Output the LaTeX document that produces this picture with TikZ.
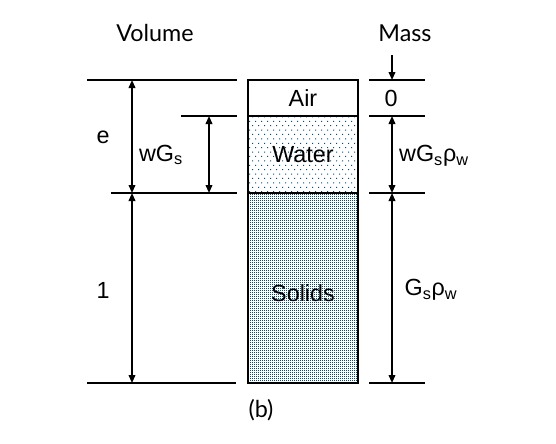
\documentclass[tikz,border=0pt]{standalone}
\usepackage{fontspec}
\setmainfont{Liberation Sans}
\newfontfamily\titlefont{Lato}
\usetikzlibrary{arrows.meta,patterns,positioning}
\pgfdeclarepatternformonly{waterdots}{\pgfpoint{-1pt}{-1pt}}{\pgfpoint{5.5pt}{7.6pt}}{\pgfpoint{4.5pt}{6.6pt}}
{
    \pgfpathrectangle{\pgfpoint{0pt}{0pt}}{\pgfpoint{0.75pt}{0.75pt}}
    \pgfpathrectangle{\pgfpoint{2.25pt}{3.3pt}}{\pgfpoint{0.75pt}{0.75pt}}
    \pgfusepath{fill}
}
\pgfdeclarepatternformonly{soliddots}{\pgfpoint{-0.5pt}{-0.5pt}}{\pgfpoint{2pt}{2pt}}{\pgfpoint{1.5pt}{1.5pt}}
{
    \pgfpathrectangle{\pgfpoint{0pt}{0pt}}{\pgfpoint{1pt}{1pt}}
    \pgfusepath{fill}
}
\definecolor{dotblue}{RGB}{0,78,125}
\tikzset
{
    phasebox/.style = {rectangle, draw=black, line width=1.5pt, minimum width=82.5pt, outer sep=0pt, inner sep=0pt, font=\fontsize{17.5}{19}\selectfont},
    levelline/.style = {line width=1.5pt},
    dimarrow/.style = {line width=1.2pt, {Triangle[length=6pt,width=5pt]}-{Triangle[length=6pt,width=5pt]}},
    downarrow/.style = {line width=1.2pt, -{Triangle[length=6pt,width=5pt]}},
    quantity/.style = {inner sep=0pt, font=\fontsize{17.5}{19}\selectfont},
    heading/.style = {inner sep=0pt, font=\titlefont\fontsize{17.5}{19}\selectfont}
}

\begin{document}
\begin{tikzpicture}[x=0.75pt, y=-0.75pt]
\useasboundingbox (0,0) rectangle (556,443);
% phase column
\node[phasebox, minimum height=27pt, anchor=north] (air) at (303,80) {Air};
\node[phasebox, minimum height=57.75pt, pattern=waterdots, pattern color=dotblue, below=0pt of air] (water) {Water};
\node[phasebox, minimum height=142.5pt, pattern=soliddots, pattern color=dotblue, below=0pt of water] (solids) {};
\node[quantity] (solidstext) at (303,293) {Solids};
% volume side
\coordinate (vTopL) at (87,80);   \coordinate (vTopR) at (237,80);
\coordinate (vWatL) at (181,116); \coordinate (vWatR) at (237,116);
\coordinate (vSolL) at (111,193); \coordinate (vSolR) at (237,193);
\coordinate (vBotL) at (87,383);  \coordinate (vBotR) at (236,383);
\draw[levelline] (vTopL) -- (vTopR);
\draw[levelline] (vWatL) -- (vWatR);
\draw[levelline] (vSolL) -- (vSolR);
\draw[levelline] (vBotL) -- (vBotR);
\coordinate (eTop) at (132,80);  \coordinate (eBot) at (132,193);
\coordinate (oneBot) at (132,383);
\coordinate (wTop) at (209,116); \coordinate (wBot) at (209,193);
\draw[dimarrow] (eTop) -- (eBot);
\draw[dimarrow] (eBot) -- (oneBot);
\draw[dimarrow] (wTop) -- (wBot);
% mass side
\coordinate (mTopL) at (369,80);  \coordinate (mTopR) at (425,80);
\coordinate (mWatL) at (369,116); \coordinate (mWatR) at (425,116);
\coordinate (mSolL) at (369,193); \coordinate (mSolR) at (425,193);
\coordinate (mBotL) at (369,383); \coordinate (mBotR) at (425,383);
\draw[levelline] (mTopL) -- (mTopR);
\draw[levelline] (mWatL) -- (mWatR);
\draw[levelline] (mSolL) -- (mSolR);
\draw[levelline] (mBotL) -- (mBotR);
\coordinate (airIn) at (392,55); \coordinate (airTop) at (392,80);
\coordinate (mwTop) at (392,116); \coordinate (mwBot) at (392,193);
\coordinate (msBot) at (392,383);
\draw[downarrow] (airIn) -- (airTop);
\draw[dimarrow] (mwTop) -- (mwBot);
\draw[dimarrow] (mwBot) -- (msBot);
% labels
\node[heading] (volume) at (155,33) {Volume};
\node[heading] (mass) at (405,33) {Mass};
\node[quantity] (e) at (103,137) {e};
\node[quantity] (wgs) at (161,155) {wG\textsubscript{s}};
\node[quantity] (one) at (103,290) {1};
\node[quantity] (zero) at (391,98) {0};
\node[quantity] (wgsrho) at (434,156) {wG\textsubscript{s}ρ\textsubscript{w}};
\node[quantity] (gsrho) at (431,290) {G\textsubscript{s}ρ\textsubscript{w}};
\node[heading] (caption) at (261,410) {(b)};
\end{tikzpicture}
\end{document}
